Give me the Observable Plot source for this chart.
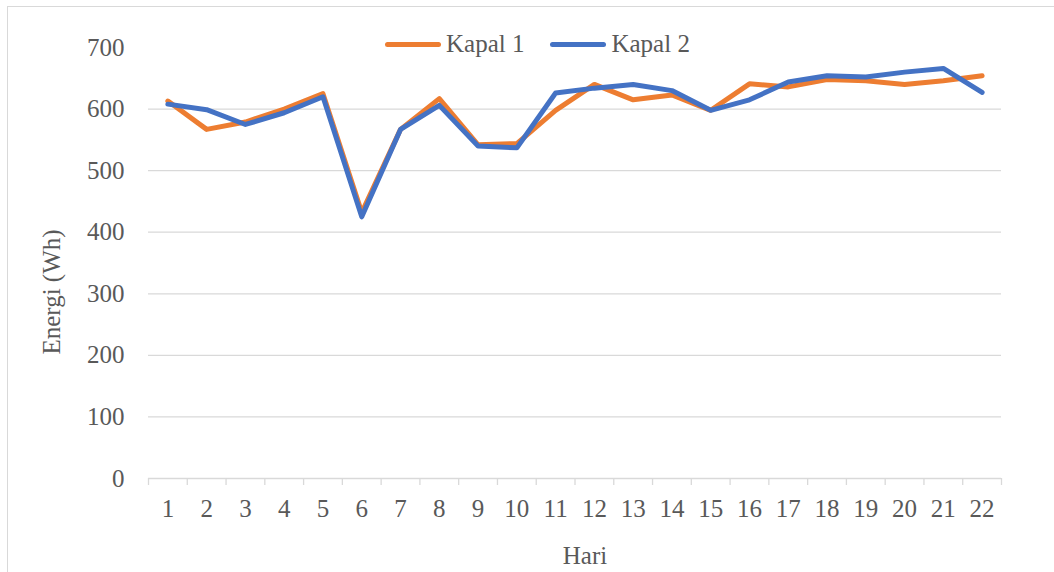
<!DOCTYPE html>
<html>
<head>
<meta charset="utf-8">
<script src="https://cdn.jsdelivr.net/npm/d3@7"></script>
<script src="https://cdn.jsdelivr.net/npm/@observablehq/plot@0.6"></script>
<style>
  html, body { margin: 0; padding: 0; background: #fff; }
  #wrap { position: relative; width: 1054px; height: 572px; overflow: hidden; font-family: "Liberation Serif", "Times New Roman", serif; }
  #border { position: absolute; left: 7px; top: 6px; right: -10px; bottom: -10px; border-left: 1.5px solid #d9d9d9; border-top: 1.5px solid #d9d9d9; }
  #chart { position: absolute; left: 0; top: 0; }
  #legend { position: absolute; top: 30px; left: 385px; display: flex; align-items: center; font-family: "Liberation Serif", "Times New Roman", serif; font-size: 25px; line-height: 28px; color: #595959; white-space: nowrap; }
  .sw { display: inline-block; width: 56px; height: 5px; border-radius: 3px; margin-right: 5px; }
  .item { display: flex; align-items: center; margin-right: 26px; }
</style>
</head>
<body>
<div id="wrap">
  <div id="border"></div>
  <div id="chart"></div>
  <div id="legend"></div>
</div>
<script>
const days = [1,2,3,4,5,6,7,8,9,10,11,12,13,14,15,16,17,18,19,20,21,22];
const kapal1 = [613,567,579,600,625,432,567,617,542,544,598,640,615,623,598,641,636,648,646,640,646,654];
const kapal2 = [608,599,575,594,620,425,567,606,540,537,626,634,640,630,598,615,644,654,652,660,666,627];
const yTicks = [0,100,200,300,400,500,600,700];
const gridVals = [100,200,300,400,500,600];
const seriesNames = ["Kapal 1", "Kapal 2"];
const seriesColors = ["#ED7D31", "#4472C4"];

const data1 = days.map((d, i) => ({day: d, value: kapal1[i]}));
const data2 = days.map((d, i) => ({day: d, value: kapal2[i]}));
const boundaries = [days[0] - 0.5, ...days.map(d => d + 0.5)];

const FONT = '"Liberation Serif", "Times New Roman", serif';
const chart = Plot.plot({
  width: 1054,
  height: 572,
  marginLeft: 148,
  marginRight: 53,
  marginTop: 47,
  marginBottom: 94,
  style: {fontFamily: FONT, fontSize: "25px", color: "#595959", background: "transparent"},
  x: {type: "linear", domain: [0.5, 22.5]},
  y: {domain: [0, 700]},
  marks: [
    Plot.ruleY(gridVals, {stroke: "#d9d9d9", strokeWidth: 1.3}),
    Plot.ruleY([0], {stroke: "#d9d9d9", strokeWidth: 1.3}),
    Plot.axisX({ticks: boundaries, tickSize: 7, tickFormat: () => "", stroke: "#d9d9d9", strokeWidth: 1.3, strokeOpacity: 1, label: null}),
    Plot.axisX({ticks: days, tickSize: 0, tickPadding: 21, tickFormat: d => String(d), fill: "#595959", fontSize: 25, fontFamily: FONT, label: null}),
    Plot.axisY({ticks: yTicks, tickSize: 0, tickPadding: 24, fill: "#595959", fontSize: 25, fontFamily: FONT, label: null}),
    Plot.line(data1, {x: "day", y: "value", stroke: seriesColors[0], strokeWidth: 5, strokeLinejoin: "round", strokeLinecap: "round"}),
    Plot.line(data2, {x: "day", y: "value", stroke: seriesColors[1], strokeWidth: 5, strokeLinejoin: "round", strokeLinecap: "round"}),
    Plot.text(["Energi (Wh)"], {frameAnchor: "left", dx: -97, dy: 29, rotate: -90, fill: "#595959", fontSize: 25, fontFamily: FONT, lineAnchor: "middle", textAnchor: "middle"}),
    Plot.text(["Hari"], {frameAnchor: "bottom", dx: 10, dy: 77, fill: "#595959", fontSize: 25, fontFamily: FONT, lineAnchor: "middle", textAnchor: "middle"})
  ]
});
document.getElementById("chart").appendChild(chart);

const legend = document.getElementById("legend");
seriesNames.forEach((name, i) => {
  const item = document.createElement("span");
  item.className = "item";
  const sw = document.createElement("span");
  sw.className = "sw";
  sw.style.background = seriesColors[i];
  item.appendChild(sw);
  item.appendChild(document.createTextNode(name));
  legend.appendChild(item);
});
</script>
</body>
</html>
